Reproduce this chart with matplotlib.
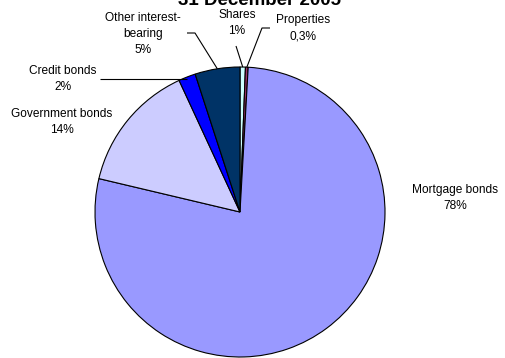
import numpy as np
import matplotlib
matplotlib.use("Agg")
import matplotlib.pyplot as plt

# ---- data ----
categories = ["Shares", "Properties", "Mortgage bonds", "Government bonds",
              "Credit bonds", "Other interest-\nbearing"]
values = [0.6, 0.3, 77.8, 14.4, 1.9, 5.0]
pct_labels = ["1%", "0,3%", "78%", "14%", "2%", "5%"]
colors = ["#CCFFFF", "#993366", "#9999FF", "#CCCCFF", "#0000FF", "#003366"]
title = "31 December 2005"

W, H = 506, 358
CX, CY, R = 240, 212, 145

plt.rcParams['font.family'] = ['Liberation Sans', 'DejaVu Sans']
fig = plt.figure(figsize=(W / 100, H / 100), dpi=100)
ax = fig.add_axes([0, 0, 1, 1])


def px(x, y):
    return ((x - CX) / R, (CY - y) / R)


wedges, _ = ax.pie(values, colors=colors, startangle=90, counterclock=False,
                   radius=1, center=(0, 0), frame=True,
                   wedgeprops=dict(edgecolor='black', linewidth=0.8))
ax.set_xlim(-CX / R, (W - CX) / R)
ax.set_ylim((CY - H) / R, CY / R)
ax.set_aspect('auto')
ax.axis('off')

# label layout (pixel positions of text centres, elbow points)
label_pos = {
    "Shares": (237, 23),
    "Properties": (303, 28),
    "Mortgage bonds": (455, 198),
    "Government bonds": (62, 122),
    "Credit bonds": (63, 79),
    "Other interest-\nbearing": (143, 34),
}
elbows = {
    "Shares": [(236, 46)],
    "Properties": [(270, 28), (262, 28)],
    "Mortgage bonds": None,
    "Government bonds": None,
    "Credit bonds": [(100, 79)],
    "Other interest-\nbearing": [(187, 33), (195, 33)],
}

fs = 8.6
for w, cat, pl in zip(wedges, categories, pct_labels):
    x, y = label_pos[cat]
    ax.text(*px(x, y), f"{cat}\n{pl}", ha='center', va='center',
            fontsize=fs, linespacing=1.45, color='black')
    el = elbows[cat]
    if el:
        ang = np.deg2rad((w.theta1 + w.theta2) / 2)
        ex, ey = np.cos(ang), np.sin(ang)
        pts = [px(*p) for p in el]
        if cat == "Credit bonds":
            pts.append((ex, pts[0][1]))
        else:
            pts.append((ex, ey))
        xs, ys = zip(*pts)
        ax.plot(xs, ys, color='black', lw=0.8, solid_capstyle='butt')

ax.text(*px(260, 5), title, ha='center', va='baseline', fontsize=13.5,
        fontweight='bold')

fig.savefig("out.png", dpi=100)
